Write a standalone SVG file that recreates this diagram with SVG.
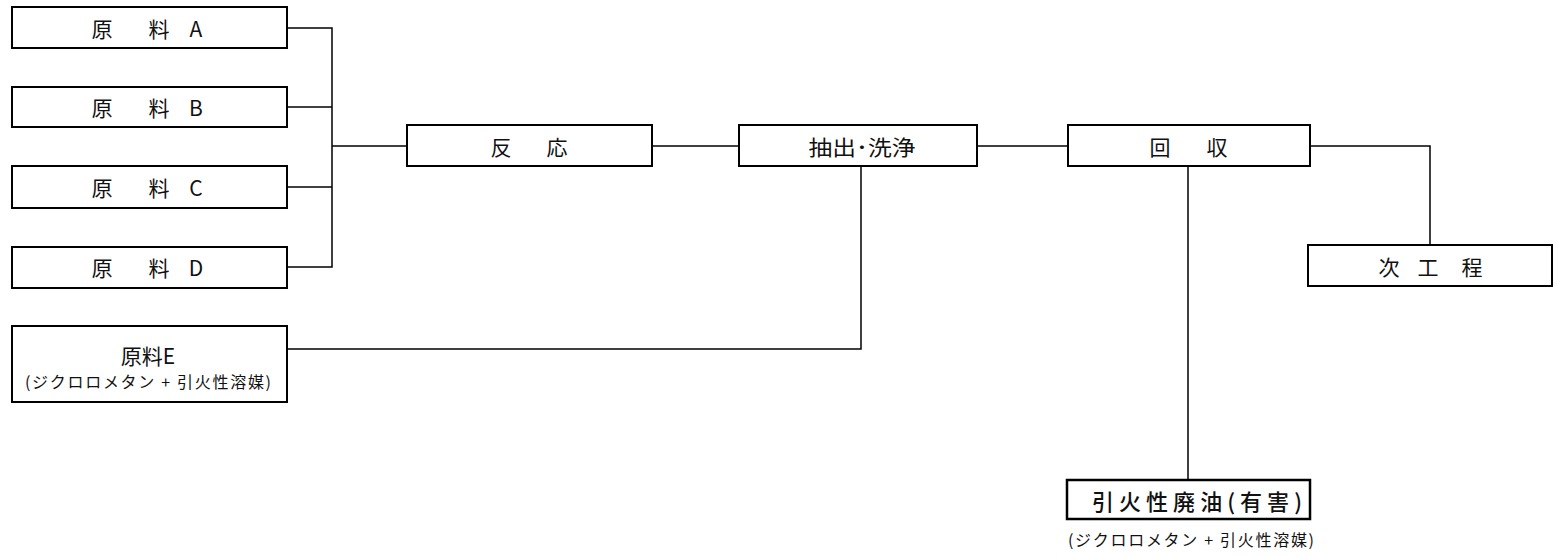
<svg xmlns="http://www.w3.org/2000/svg" width="1556" height="558" viewBox="0 0 1556 558">
<style>
.box{fill:#fff;stroke:#000;stroke-width:2}
.ln{fill:none;stroke:#000;stroke-width:1.5}
.t{font-family:"Noto Sans CJK JP","Noto Sans",sans-serif;font-size:21px;fill:#111;text-anchor:middle;dominant-baseline:central}
.s{font-family:"Noto Sans CJK JP","Noto Sans",sans-serif;font-size:16px;fill:#111;text-anchor:middle;dominant-baseline:central}
</style>
<rect width="1556" height="558" fill="#fff"/>
<g id="connectors">
<polyline class="ln" points="287,28 332,28 332,267 287,267"/>
<line class="ln" x1="287" y1="107" x2="332" y2="107"/>
<line class="ln" x1="287" y1="187" x2="332" y2="187"/>
<line class="ln" x1="332" y1="146" x2="407" y2="146"/>
<line class="ln" x1="652" y1="146" x2="739" y2="146"/>
<polyline class="ln" points="287,349 861,349 861,166"/>
<line class="ln" x1="977" y1="146" x2="1068" y2="146"/>
<polyline class="ln" points="1310,146 1430,146 1430,245"/>
<line class="ln" x1="1188" y1="166" x2="1188" y2="480"/>
</g>
<g id="nodeA"><rect class="box" x="12" y="7" width="275" height="41"/><text class="t" x="102" y="28">原</text><text class="t" x="159" y="28">料</text><text class="t" x="196" y="28">A</text></g>
<g id="nodeB"><rect class="box" x="12" y="87" width="275" height="40"/><text class="t" x="102" y="107">原</text><text class="t" x="159" y="107">料</text><text class="t" x="196" y="107">B</text></g>
<g id="nodeC"><rect class="box" x="12" y="166" width="275" height="42"/><text class="t" x="102" y="187">原</text><text class="t" x="159" y="187">料</text><text class="t" x="196" y="187">C</text></g>
<g id="nodeD"><rect class="box" x="12" y="247" width="275" height="41"/><text class="t" x="102" y="267">原</text><text class="t" x="159" y="267">料</text><text class="t" x="196" y="267">D</text></g>
<g id="nodeE"><rect class="box" x="12" y="326" width="275" height="76"/><text class="t" x="148" y="355">原料E</text><text class="s" x="148" y="381" textLength="246" lengthAdjust="spacing">(ジクロロメタン + 引火性溶媒)</text></g>
<g id="reaction"><rect class="box" x="407" y="125" width="245" height="41"/><text class="t" x="501" y="146">反</text><text class="t" x="557" y="146">応</text></g>
<g id="extract"><rect class="box" x="739" y="125" width="238" height="41"/><text class="t" x="862" y="146" textLength="107" lengthAdjust="spacingAndGlyphs">抽出･洗浄</text></g>
<g id="recovery"><rect class="box" x="1068" y="125" width="242" height="41"/><text class="t" x="1160" y="146">回</text><text class="t" x="1217" y="146">収</text></g>
<g id="next"><rect class="box" x="1308" y="245" width="244" height="41"/><text class="t" x="1389" y="266">次</text><text class="t" x="1428" y="266">工</text><text class="t" x="1472" y="266">程</text></g>
<g id="waste"><rect class="box" x="1067" y="480" width="243" height="39" style="stroke-width:2.5"/><text class="t" x="1197" y="500" style="font-weight:500;font-size:22px" textLength="210" lengthAdjust="spacing">引火性廃油(有害)</text><text class="s" x="1191" y="539" textLength="246" lengthAdjust="spacing">(ジクロロメタン + 引火性溶媒)</text></g>
</svg>
